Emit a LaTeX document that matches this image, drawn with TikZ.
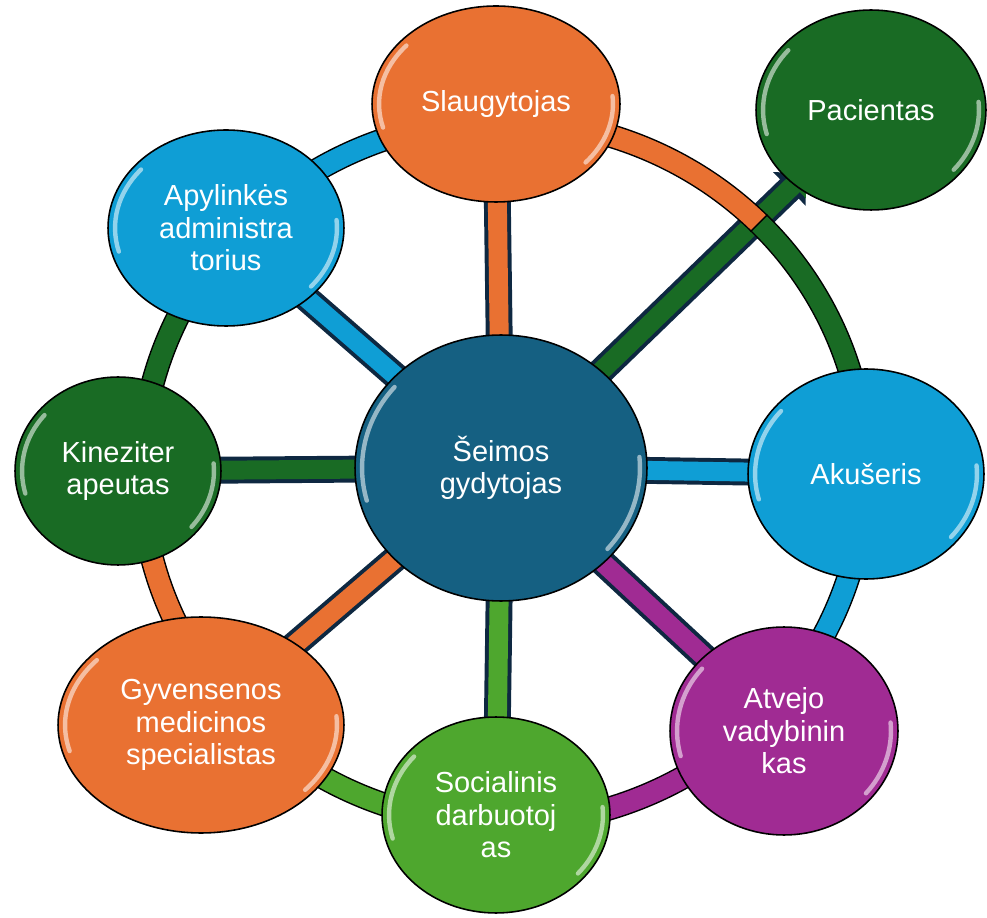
\documentclass[tikz,border=0pt]{standalone}
\usepackage{fontspec}
\setmainfont{Liberation Sans}
\usetikzlibrary{shapes.geometric,arrows.meta,calc}
\definecolor{orng}{HTML}{E97132}
\definecolor{ltblue}{HTML}{0F9ED5}
\definecolor{dkgreen}{HTML}{196B24}
\definecolor{grn}{HTML}{4EA72E}
\definecolor{purp}{HTML}{A02B93}
\definecolor{hubblue}{HTML}{156082}
\definecolor{navy}{HTML}{0E2841}
\pgfdeclarelayer{spokes}
\pgfdeclarelayer{ring}
\pgfsetlayers{spokes,ring,main}
\begin{document}
\begin{tikzpicture}[x=0.02cm, y=-0.02cm,
	gloss/.style={path picture={
		\draw[white, opacity=.55, line width=2.5pt, line cap=round]
			let \p1=(path picture bounding box.north east), \p2=(path picture bounding box.center),
				\n1={\x1-\x2-4pt}, \n2={\y1-\y2-4pt} in
			(\p2) ++(140:\n1 and \n2) arc[start angle=140, end angle=195, x radius=\n1, y radius=\n2]
			(\p2) ++(-40:\n1 and \n2) arc[start angle=-40, end angle=5, x radius=\n1, y radius=\n2];
	}},
	bubble/.style={ellipse, draw=black, line width=0.9pt, inner sep=0pt, fill=#1, text=white, align=center, font=\fontsize{16.5}{18.5}\selectfont, gloss},
	spoke/.style={draw=navy, line width=2.25pt, double=#1, double distance=10.8pt},
	rim/.style={draw=black, line width=0.85pt, double=#1, double distance=11.9pt}]
		\useasboundingbox (0,0) rectangle (987,918);
		\node[bubble=hubblue, minimum width=5.84cm, minimum height=5.32cm] (G) at (501,468) {Šeimos\\gydytojas};
		\node[bubble=orng, minimum width=4.96cm, minimum height=3.92cm] (S) at (496,104) {Slaugytojas};
		\node[bubble=dkgreen, minimum width=4.6cm, minimum height=4cm] (P) at (871,110) {Pacientas};
		\node[bubble=ltblue, minimum width=4.72cm, minimum height=4.2cm] (Ak) at (866,474) {Akušeris};
		\node[bubble=purp, minimum width=4.56cm, minimum height=4.16cm] (Av) at (784,731) {Atvejo\\vadybinin\\kas};
		\node[bubble=grn, minimum width=4.56cm, minimum height=3.92cm] (So) at (496,815) {Socialinis\\darbuotoj\\as};
		\node[bubble=orng, minimum width=5.72cm, minimum height=4.32cm] (Gy) at (201,725) {Gyvensenos\\medicinos\\specialistas};
		\node[bubble=dkgreen, minimum width=4.12cm, minimum height=3.76cm] (K) at (118,471) {Kineziter\\apeutas};
		\node[bubble=ltblue, minimum width=4.72cm, minimum height=3.92cm] (A) at (226,228) {Apylinkės\\administra\\torius};
		\coordinate (O) at (503,472);

		\begin{pgfonlayer}{spokes}
		\draw[spoke=orng] (G.center) -- (S.center);
		\draw[spoke=ltblue] (G.center) -- (Ak.center);
		\draw[spoke=purp] (G.center) -- (Av.center);
		\draw[spoke=grn] (G.center) -- (So.center);
		\draw[spoke=orng] (G.center) -- (Gy.center);
		\draw[spoke=dkgreen] (G.center) -- (K.center);
		\draw[spoke=ltblue] (G.center) -- (A.center);
		\draw[navy, line width=15.3pt, -{Triangle[width=26pt,length=13pt]}, shorten >=-0.34cm] (G.center) -- (P);
		\draw[dkgreen, line width=10.8pt, -{Triangle[width=20pt,length=10pt]}, shorten >=-0.34cm] (G.center) -- (P);
		\end{pgfonlayer}

		\begin{pgfonlayer}{ring}
		\draw[rim=orng] (O) ++(-91:362 and 352) arc[start angle=-91, end angle=-45, x radius=362, y radius=352];
		\draw[rim=dkgreen] (O) ++(-45:362 and 352) arc[start angle=-45, end angle=0, x radius=362, y radius=352];
		\draw[rim=ltblue] (O) ++(0:362 and 352) arc[start angle=0, end angle=42, x radius=362, y radius=352];
		\draw[rim=purp] (O) ++(42:362 and 352) arc[start angle=42, end angle=91, x radius=362, y radius=352];
		\draw[rim=grn] (O) ++(91:362 and 352) arc[start angle=91, end angle=140, x radius=362, y radius=352];
		\draw[rim=orng] (O) ++(140:362 and 352) arc[start angle=140, end angle=181, x radius=362, y radius=352];
		\draw[rim=dkgreen] (O) ++(181:362 and 352) arc[start angle=181, end angle=222, x radius=362, y radius=352];
		\draw[rim=ltblue] (O) ++(222:362 and 352) arc[start angle=222, end angle=269, x radius=362, y radius=352];
		\draw[black, line width=0.85pt] (O) ++(-45:350 and 340) -- ++(-45:24 and 24);
		\end{pgfonlayer}
	\end{tikzpicture}
\end{document}
